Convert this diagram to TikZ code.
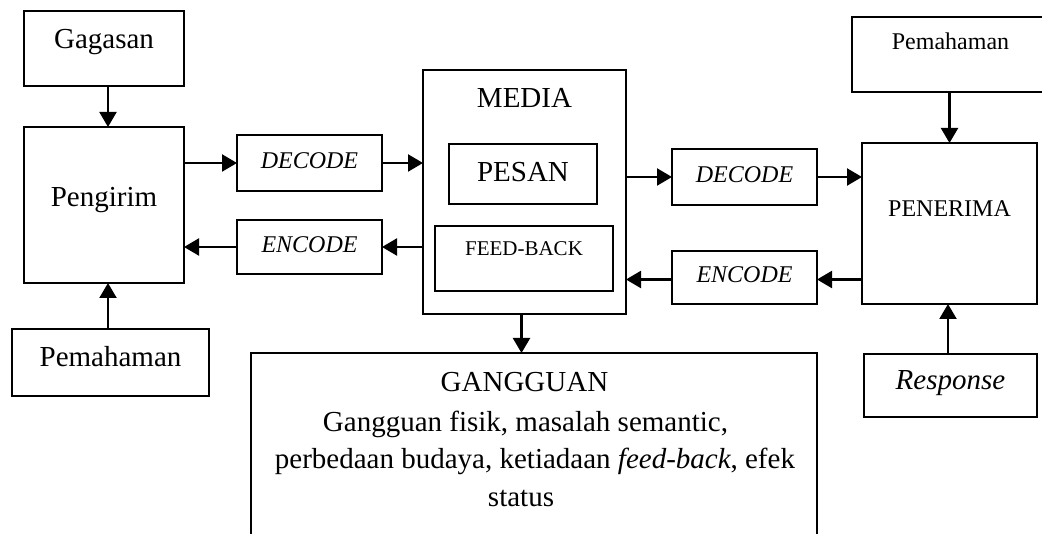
\documentclass[tikz,border=0pt]{standalone}
\usepackage{fontspec}
\setmainfont{Liberation Serif}
\usetikzlibrary{arrows.meta}
\tikzset{
  boxnode/.style={draw, line width=2.2pt, fill=white, inner sep=0pt, outer sep=0pt, anchor=center},
  txtbig/.style={font=\fontsize{29}{35}\selectfont, inner sep=0pt, anchor=base},
  txtmid/.style={font=\fontsize{24}{29}\selectfont, inner sep=0pt, anchor=base},
  txtsmall/.style={font=\fontsize{21}{25}\selectfont, inner sep=0pt, anchor=base},
  conn/.style={line width=2.2pt, -{Triangle[length=15pt 0 0,width=17pt 0 0]}}
}
\begin{document}
\begin{tikzpicture}[x=1pt,y=-1pt]
\useasboundingbox (0,0) rectangle (1042,534);
\clip (0,0) rectangle (1042,534);
\fill[white] (0,0) rectangle (1042,534);
% boxes
\node[boxnode, minimum width=160pt, minimum height=75pt] (gag) at (104,48.5) {};
\node[boxnode, minimum width=160pt, minimum height=156pt] (pen) at (104,205) {};
\node[boxnode, minimum width=197pt, minimum height=67pt] (lpem) at (110.5,362.5) {};
\node[boxnode, minimum width=145pt, minimum height=56pt] (ldec) at (309.5,163) {};
\node[boxnode, minimum width=145pt, minimum height=54pt] (lenc) at (309.5,247) {};
\node[boxnode, minimum width=203pt, minimum height=244pt] (media) at (524.5,192) {};
\node[boxnode, minimum width=148pt, minimum height=60pt] (pesan) at (523,174) {};
\node[boxnode, minimum width=178pt, minimum height=65pt] (fb) at (524,258.5) {};
\node[boxnode, minimum width=145pt, minimum height=56pt] (rdec) at (744.5,177) {};
\node[boxnode, minimum width=145pt, minimum height=53pt] (renc) at (744.5,277.5) {};
\node[boxnode, minimum width=197pt, minimum height=75pt] (rpem) at (950.5,54.5) {};
\node[boxnode, minimum width=175pt, minimum height=161pt] (penr) at (949.5,223.5) {};
\node[boxnode, minimum width=173pt, minimum height=63pt] (resp) at (950.5,385.5) {};
\node[boxnode, minimum width=566pt, minimum height=217pt] (gang) at (534,461.5) {};
% texts
\node[txtbig] (tgag) at (104,48.3) {Gagasan};
\node[txtbig] (tpen) at (104,207) {Pengirim};
\node[txtbig] (tlpem) at (110.5,367) {Pemahaman};
\node[txtmid] (tldec) at (309.5,169) {\itshape DECODE};
\node[txtmid] (tlenc) at (309.5,253) {\itshape ENCODE};
\node[txtbig] (tmedia) at (524.5,108) {MEDIA};
\node[txtbig] (tpesan) at (523,182) {PESAN};
\node[txtsmall] (tfb) at (524,256) {FEED-BACK};
\node[txtmid] (trdec) at (744.5,183) {\itshape DECODE};
\node[txtmid] (trenc) at (744.5,283) {\itshape ENCODE};
\node[txtmid] (trpem) at (950.5,50) {Pemahaman};
\node[txtmid] (tpenr) at (949.5,217) {PENERIMA};
\node[txtbig] (tresp) at (950.5,390) {\itshape Response};
\node[txtbig] (tg1) at (524.5,392) {GANGGUAN};
\node[txtbig] (tg2) at (525.5,432) {Gangguan fisik, masalah semantic,};
\node[txtbig] (tg3) at (535,468) {perbedaan budaya, ketiadaan \textit{feed-back}, efek};
\node[txtbig] (tg4) at (521,507) {status};
% connectors
\draw[conn] ([xshift=4pt]gag.south) -- ([xshift=4pt]pen.north);
\draw[conn] ([xshift=-2.5pt]lpem.north) -- ([xshift=4pt]pen.south);
\draw[conn] (pen.east |- ldec.west) -- (ldec.west);
\draw[conn] (ldec.east) -- (ldec.east -| media.west);
\draw[conn] (lenc.east -| media.west) -- (lenc.east);
\draw[conn] (lenc.west) -- (lenc.west -| pen.east);
\draw[conn] (media.east |- rdec.west) -- (rdec.west);
\draw[conn] (rdec.east) -- (rdec.east -| penr.west);
\draw[conn] ([yshift=-2pt]renc.east -| penr.west) -- ([yshift=-2pt]renc.east);
\draw[conn] ([yshift=-2pt]renc.west) -- ([yshift=-2pt]renc.west -| media.east);
\draw[conn] (penr.north |- rpem.south) -- (penr.north);
\draw[conn] ([xshift=-1.5pt]penr.south |- resp.north) -- ([xshift=-1.5pt]penr.south);
\draw[conn] ([xshift=-3pt]media.south) -- ([xshift=-3pt]media.south |- gang.north);
\end{tikzpicture}
\end{document}
